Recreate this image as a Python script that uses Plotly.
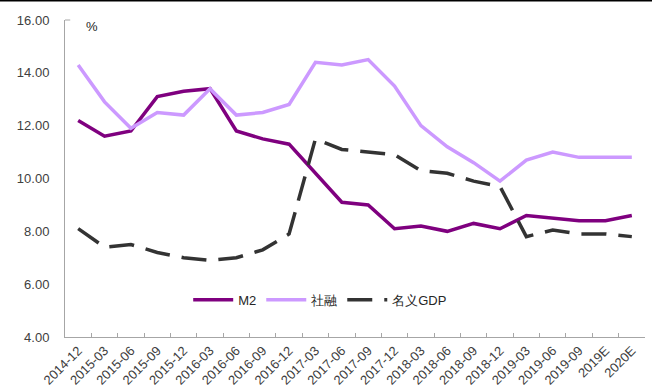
import plotly.graph_objects as go

categories = ["2014-12", "2015-03", "2015-06", "2015-09", "2015-12", "2016-03", "2016-06",
              "2016-09", "2016-12", "2017-03", "2017-06", "2017-09", "2017-12", "2018-03",
              "2018-06", "2018-09", "2018-12", "2019-03", "2019-06", "2019-09", "2019E", "2020E"]
m2 = [12.2, 11.6, 11.8, 13.1, 13.3, 13.4, 11.8, 11.5, 11.3, 10.2, 9.1, 9.0, 8.1, 8.2,
      8.0, 8.3, 8.1, 8.6, 8.5, 8.4, 8.4, 8.6]
tsf = [14.3, 12.9, 11.9, 12.5, 12.4, 13.4, 12.4, 12.5, 12.8, 14.4, 14.3, 14.5, 13.5, 12.0,
       11.2, 10.6, 9.9, 10.7, 11.0, 10.8, 10.8, 10.8]
gdp = [8.1, 7.4, 7.5, 7.2, 7.0, 6.9, 7.0, 7.3, 7.9, 11.5, 11.1, 11.0, 10.9, 10.3,
       10.2, 9.9, 9.7, 7.8, 8.05, 7.9, 7.9, 7.8]
y_ticks = [4, 6, 8, 10, 12, 14, 16]

font = "Liberation Sans, Arial, sans-serif"
fig = go.Figure()
fig.add_trace(go.Scatter(x=categories, y=m2, name="M2", mode="lines",
                         line=dict(color="#7F007F", width=3.5)))
fig.add_trace(go.Scatter(x=categories, y=tsf, name="社融", mode="lines",
                         line=dict(color="#CC99FF", width=3.5)))
fig.add_trace(go.Scatter(x=categories, y=gdp, name="名义GDP", mode="lines",
                         line=dict(color="#333333", width=3.5, dash="25px,12px")))

fig.update_layout(
    width=652, height=389,
    margin=dict(l=65, r=7, t=20, b=52),
    paper_bgcolor="white", plot_bgcolor="white",
    font=dict(family=font, size=13, color="#404040"),
    showlegend=True,
    legend=dict(orientation="h", x=0.44, xanchor="center", y=0.117, yanchor="middle",
                bgcolor="rgba(0,0,0,0)", font=dict(size=13, color="#262626"),
                itemwidth=40, tracegroupgap=0),
    xaxis=dict(type="category", showgrid=False, showline=True, linecolor="#A6A6A6",
               linewidth=1, ticks="inside", ticklen=4, tickcolor="#A6A6A6",
               tickson="boundaries", tickangle=-45, range=[-0.5, 21.5], automargin=False,
               tickfont=dict(size=13, color="#404040")),
    yaxis=dict(range=[4, 16], tickvals=y_ticks, ticktext=[f"{v:.2f}" for v in y_ticks],
               showgrid=False, showline=True, linecolor="#A6A6A6", linewidth=1,
               ticks="outside", ticklen=0, ticklabelstandoff=12, zeroline=False,
               automargin=False, tickfont=dict(size=13, color="#404040")),
    annotations=[dict(text="%", xref="paper", yref="paper", x=0.047, y=0.98,
                      xanchor="center", yanchor="middle", showarrow=False,
                      font=dict(size=13, color="#262626"))],
    shapes=[dict(type="line", xref="paper", yref="paper", x0=-0.2, x1=1.2,
                 y0=1.0615, y1=1.0615, line=dict(color="black", width=2)),
            dict(type="line", xref="paper", yref="paper", x0=0, x1=0.009,
                 y0=1, y1=1, line=dict(color="#A6A6A6", width=1))],
)
fig.write_html("out.html")
